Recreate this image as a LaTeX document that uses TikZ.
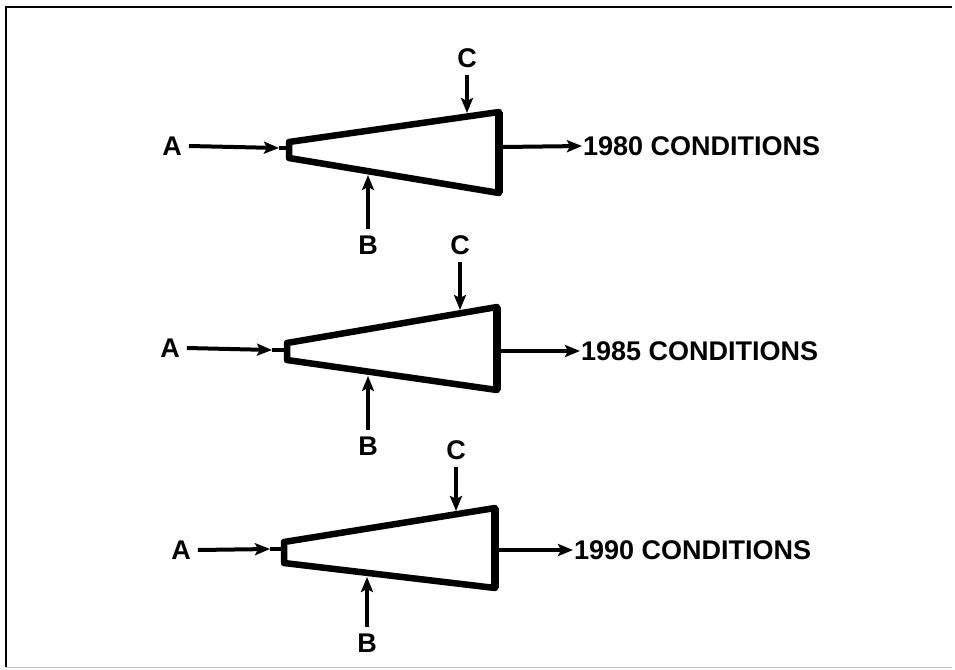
\documentclass[tikz,border=0pt]{standalone}
\usepackage{fontspec}
\setmainfont{Liberation Sans}
\usetikzlibrary{arrows.meta}
\begin{document}
\begin{tikzpicture}[x=1pt,y=-1pt,
  tri/.style={line width=6.5pt,line join=round},
  rside/.style={line width=8pt,line cap=butt},
  arr/.style={line width=4pt,-{Stealth[length=15pt,width=12pt,inset=3pt]}},
  plain/.style={line width=4pt},
  lab/.style={font=\fontsize{27}{32}\selectfont\bfseries,inner sep=7pt},
  cond/.style={font=\fontsize{27}{32}\selectfont\bfseries,inner sep=1pt,anchor=west},
  frame/.style={line width=2.5pt}]
\useasboundingbox (0,0) rectangle (955,669);
% frame
\draw[frame] (6,667) -- (6,7) -- (952,7);
\draw[line width=1pt,black!25] (6,667) -- (952,667);

% ---------- block 1 ----------
\coordinate (t1a) at (289,142);
\coordinate (t1b) at (499,112);
\coordinate (t1c) at (499,193);
\coordinate (t1d) at (289,158);
\draw[tri] (t1a) -- (t1b) -- (t1c) -- (t1d) -- cycle;
\draw[rside] (t1b) -- (t1c);
\node[lab] (A1) at (172,146) {A};
\coordinate (a1tip) at (279,148);
\coordinate (a1end) at (289,148);
\draw[arr] (A1.east) -- (a1tip);
\draw[plain] (a1tip) -- (a1end);
\node[lab] (C1) at (467,58) {C};
\coordinate (c1) at (467,113);
\draw[arr] (C1.south) -- (c1);
\node[lab] (B1) at (368,245) {B};
\coordinate (b1) at (368,175);
\draw[arr] (B1.north) -- (b1);
\coordinate (o1) at (503,147);
\node[cond] (T1) at (582,146) {1980 CONDITIONS};
\draw[arr] (o1) -- (T1.west);

% ---------- block 2 ----------
\coordinate (t2a) at (287,343);
\coordinate (t2b) at (497,307);
\coordinate (t2c) at (497,390);
\coordinate (t2d) at (287,360);
\draw[tri] (t2a) -- (t2b) -- (t2c) -- (t2d) -- cycle;
\draw[rside] (t2b) -- (t2c);
\node[lab] (A2) at (170,348) {A};
\coordinate (a2tip) at (272,350);
\coordinate (a2end) at (287,350);
\draw[arr] (A2.east) -- (a2tip);
\draw[plain] (a2tip) -- (a2end);
\node[lab] (C2) at (460,245) {C};
\coordinate (c2) at (460,310);
\draw[arr] (C2.south) -- (c2);
\node[lab] (B2) at (368,446) {B};
\coordinate (b2) at (368,376);
\draw[arr] (B2.north) -- (b2);
\coordinate (o2) at (501,351);
\node[cond] (T2) at (580,351) {1985 CONDITIONS};
\draw[arr] (o2) -- (T2.west);

% ---------- block 3 ----------
\coordinate (t3a) at (284,542);
\coordinate (t3b) at (495,508);
\coordinate (t3c) at (495,588);
\coordinate (t3d) at (284,563);
\draw[tri] (t3a) -- (t3b) -- (t3c) -- (t3d) -- cycle;
\draw[rside] (t3b) -- (t3c);
\node[lab] (A3) at (181,550) {A};
\coordinate (a3tip) at (270,549);
\coordinate (a3end) at (284,549);
\draw[arr] (A3.east) -- (a3tip);
\draw[plain] (a3tip) -- (a3end);
\node[lab] (C3) at (456,450) {C};
\coordinate (c3) at (456,511);
\draw[arr] (C3.south) -- (c3);
\node[lab] (B3) at (367,643) {B};
\coordinate (b3) at (367,577);
\draw[arr] (B3.north) -- (b3);
\coordinate (o3) at (499,550);
\node[cond] (T3) at (573,550) {1990 CONDITIONS};
\draw[arr] (o3) -- (T3.west);
\end{tikzpicture}
\end{document}
